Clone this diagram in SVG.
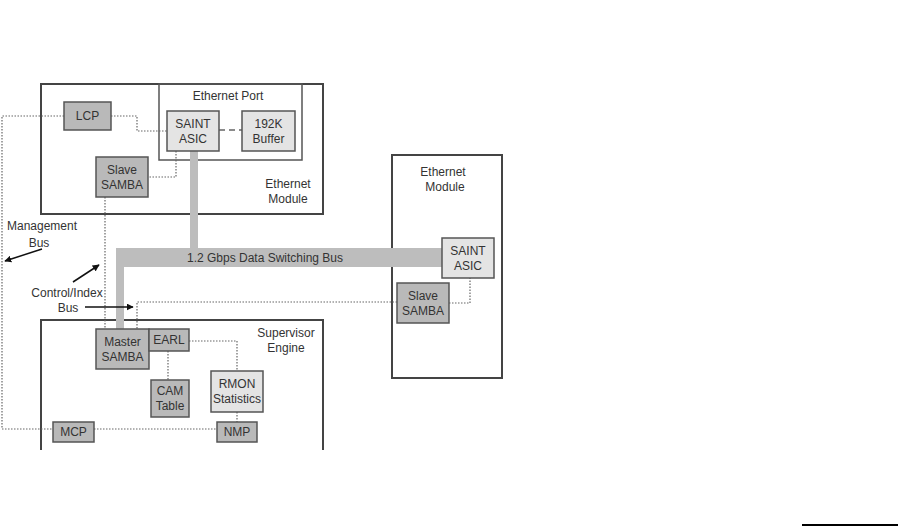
<svg xmlns="http://www.w3.org/2000/svg" width="898" height="527" viewBox="0 0 898 527">
<defs>
<style>
text{font-family:"Liberation Sans Narrow","Liberation Sans",Arial,sans-serif;font-size:12px;fill:#333;text-anchor:middle}
.frame{fill:none;stroke:#444;stroke-width:2}
.port{fill:none;stroke:#555;stroke-width:1.5}
.mid{fill:#b9b9b9;stroke:#555;stroke-width:1.5}
.light{fill:#e4e4e4;stroke:#555;stroke-width:1.5}
.dot{fill:none;stroke:#666;stroke-width:1.2;stroke-dasharray:1.5 1.5}
.dash{fill:none;stroke:#666;stroke-width:1.5;stroke-dasharray:6 4}
.arr{fill:none;stroke:#111;stroke-width:1.5;marker-end:url(#ah)}
</style>
<marker id="ah" viewBox="0 0 10 10" refX="9" refY="5" markerWidth="7" markerHeight="7" orient="auto" markerUnits="userSpaceOnUse">
<path d="M0,0 L10,5 L0,10 z" fill="#111"/>
</marker>
</defs>
<rect width="898" height="527" fill="#fff"/>

<g id="frames">
<rect class="frame" x="41" y="84" width="282" height="130"/>
<rect class="port" x="159" y="84" width="143" height="76"/>
<text x="228" y="100">Ethernet Port</text>
<text x="288" y="188">Ethernet</text>
<text x="288" y="203">Module</text>
<rect class="frame" x="392" y="155" width="110" height="223"/>
<text x="443" y="176">Ethernet</text>
<text x="445" y="191">Module</text>
<path class="frame" d="M41,450 V320 H323 V450"/>
<text x="286" y="337">Supervisor</text>
<text x="286" y="352">Engine</text>
</g>

<g id="connectors">
<path d="M190,151 H198 V248 H442 V267 H124 V329 H116 V248 H190 Z" fill="#bdbdbd"/>
<text x="265" y="262">1.2 Gbps Data Switching Bus</text>
<path class="dot" d="M64,116 H2 V429 H53"/>
<path class="dot" d="M111,116 H137 V131 H167"/>
<path class="dash" d="M219,130 H242"/>
<path class="dot" d="M176,151 V177 H148"/>
<path class="dot" d="M105,197 V329"/>
<path class="dot" d="M397,302 H137 V329"/>
<path class="dot" d="M449,303 H470 V278"/>
<path class="dot" d="M189,341 H237 V371"/>
<path class="dot" d="M168,351 V380"/>
<path class="dot" d="M237,412 V422"/>
<path class="dot" d="M94,429 H217"/>
<text x="42" y="230">Management</text>
<text x="39" y="247">Bus</text>
<path class="arr" d="M42,249 L5,261"/>
<text x="67" y="297">Control/Index</text>
<text x="68" y="312">Bus</text>
<path class="arr" d="M73,282 L99,265"/>
<path class="arr" d="M85,307 L133,307"/>
</g>

<g id="lcp"><rect class="mid" x="64" y="102" width="47" height="28"/><text x="87.5" y="120">LCP</text></g>
<g id="saint1"><rect class="light" x="167" y="111" width="52" height="40"/><text x="193" y="128">SAINT</text><text x="193" y="143">ASIC</text></g>
<g id="buffer"><rect class="light" x="242" y="111" width="53" height="40"/><text x="268.5" y="128">192K</text><text x="268.5" y="143">Buffer</text></g>
<g id="slave1"><rect class="mid" x="96" y="157" width="52" height="40"/><text x="122" y="174">Slave</text><text x="122" y="189">SAMBA</text></g>
<g id="saint2"><rect class="light" x="442" y="238" width="52" height="40"/><text x="468" y="255">SAINT</text><text x="468" y="270">ASIC</text></g>
<g id="slave2"><rect class="mid" x="397" y="283" width="52" height="40"/><text x="423" y="300">Slave</text><text x="423" y="315">SAMBA</text></g>
<g id="master"><rect class="mid" x="96" y="329" width="53" height="40"/><text x="122.5" y="346">Master</text><text x="122.5" y="361">SAMBA</text></g>
<g id="earl"><rect class="mid" x="149" y="329" width="40" height="22"/><text x="169" y="344">EARL</text></g>
<g id="cam"><rect class="mid" x="151" y="380" width="38" height="37"/><text x="170" y="395">CAM</text><text x="170" y="410">Table</text></g>
<g id="rmon"><rect class="light" x="211" y="371" width="52" height="41"/><text x="237" y="388">RMON</text><text x="237" y="403">Statistics</text></g>
<g id="nmp"><rect class="mid" x="217" y="422" width="40" height="20"/><text x="237" y="436">NMP</text></g>
<g id="mcp"><rect class="mid" x="53" y="422" width="41" height="20"/><text x="73.5" y="436">MCP</text></g>

<line x1="802" y1="525" x2="898" y2="525" stroke="#000" stroke-width="2"/>
</svg>
